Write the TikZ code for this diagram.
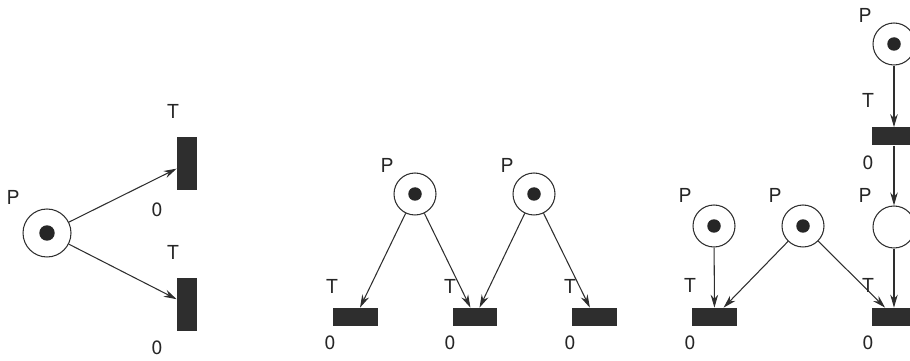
\documentclass[tikz,border=0pt]{standalone}
\usepackage{fontspec}
\setmainfont{TeX Gyre Heros}
\usepackage{tikz}
\usetikzlibrary{arrows.meta, positioning}
\definecolor{tinte}{HTML}{2E2E2E}
\definecolor{marke}{HTML}{262626}

\tikzset{
  place/.style={circle, draw=tinte, line width=0.6pt, minimum size=0.84cm, inner sep=0pt},
  bigplace/.style={place, minimum size=0.96cm},
  marked/.style={path picture={\fill[marke] (path picture bounding box.center) circle (0.135cm);}},
  bigmarked/.style={path picture={\fill[marke] (path picture bounding box.center) circle (0.155cm);}},
  vtrans/.style={rectangle, fill=tinte, minimum width=0.4cm, minimum height=1.06cm, inner sep=0pt},
  htrans/.style={rectangle, fill=tinte, minimum width=0.9cm, minimum height=0.36cm, inner sep=0pt},
  lbl/.style={font=\fontsize{11}{13}\selectfont, inner sep=0pt, text=black!85},
  arc/.style={-{Stealth[length=2.6mm, width=1.5mm]}, line width=0.6pt, draw=tinte}
}

\begin{document}
\begin{tikzpicture}[x=0.02cm, y=-0.02cm]
  \useasboundingbox (0,0) rectangle (910,361);

  % Konflikt
  \node[bigplace, bigmarked] (pl) at (47,233) {};
  \node[vtrans] (tlo) at (187,163.5) {};
  \node[vtrans] (tlu) at (187,304.5) {};
  \draw[arc] (pl) -- (tlo);
  \draw[arc] (pl) -- (tlu);

  \node[lbl] (pll) at (13,197) {P};
  \node[lbl] (tlol) at (173,111) {T};
  \node[lbl] (tlon) at (157,210) {0};
  \node[lbl] (tlul) at (173,252) {T};
  \node[lbl] (tlun) at (157,348) {0};

  % Verwechslung
  \node[place, marked] (pm1) at (415,194) {};
  \node[place, marked] (pm2) at (534,194) {};
  \node[htrans] (tm1) at (355.5,317) {};
  \node[htrans] (tm2) at (475,317) {};
  \node[htrans] (tm3) at (594.5,317) {};
  \draw[arc] (pm1) -- (tm1);
  \draw[arc] (pm1) -- (tm2);
  \draw[arc] (pm2) -- (tm2);
  \draw[arc] (pm2) -- (tm3);

  \node[lbl] (pm1l) at (387,165) {P};
  \node[lbl] (pm2l) at (507,165) {P};
  \node[lbl] (tm1l) at (332,286) {T};
  \node[lbl] (tm2l) at (450,286) {T};
  \node[lbl] (tm3l) at (570,286) {T};
  \node[lbl] (tm1n) at (330,343) {0};
  \node[lbl] (tm2n) at (450,343) {0};
  \node[lbl] (tm3n) at (570,343) {0};

  % Kette
  \node[place, marked] (pr1) at (714,226) {};
  \node[place, marked] (pr2) at (803,226) {};
  \node[place] (pr3) at (894,227) {};
  \node[place, marked] (pr4) at (894,44) {};
  \node[htrans] (tr1) at (714.5,317) {};
  \node[htrans] (tr2) at (894.5,317) {};
  \node[htrans] (tr3) at (894.5,136.5) {};
  \draw[arc] (pr1) -- (tr1);
  \draw[arc] (pr2) -- (tr1);
  \draw[arc] (pr2) -- (tr2);
  \draw[arc] (pr3.south) -- (pr3.south |- tr2.north);
  \draw[arc] (pr4.south) -- (pr4.south |- tr3.north);
  \draw[arc] (pr4.south |- tr3.south) -- (pr3.north);

  \node[lbl] (pr1l) at (685,195) {P};
  \node[lbl] (pr2l) at (775,195) {P};
  \node[lbl] (pr3l) at (865,195) {P};
  \node[lbl] (pr4l) at (865,15) {P};
  \node[lbl] (tr1l) at (690,285) {T};
  \node[lbl] (tr2l) at (868,285) {T};
  \node[lbl] (tr3l) at (868,100) {T};
  \node[lbl] (tr1n) at (690,343) {0};
  \node[lbl] (tr2n) at (868,343) {0};
  \node[lbl] (tr3n) at (868,163) {0};
\end{tikzpicture}
\end{document}
